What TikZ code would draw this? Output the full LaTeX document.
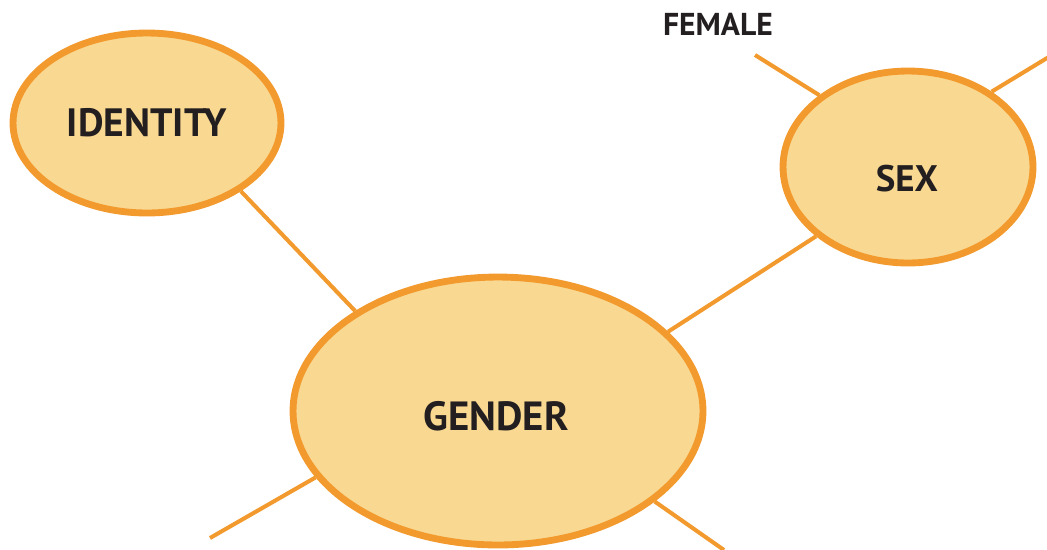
\documentclass[tikz,border=0pt]{standalone}
\usepackage{fontspec}
\setmainfont{PT Sans}
\usepackage{xcolor}
\usetikzlibrary{shapes.geometric}

\definecolor{bubblefill}{HTML}{F9D891}
\definecolor{bubbleline}{HTML}{F29A2E}
\definecolor{labeltext}{HTML}{231F20}

\begin{document}
\begin{tikzpicture}[
			x=0.02cm, y=-0.02cm,
			bubble/.style={ellipse, draw=bubbleline, fill=bubblefill, line width=3.9pt, inner sep=0pt, text=labeltext, font=\bfseries},
			link/.style={draw=bubbleline, line width=2.3pt}
			]
			\useasboundingbox (0,0) rectangle (1047,549);
			
			% Nodes
			\node (identity) [bubble, minimum width=5.36cm, minimum height=3.6cm] at (147,123) {\fontsize{22.5}{24}\selectfont IDENTITY};
			\node (sex) [bubble, minimum width=5.0cm, minimum height=3.84cm] at (908,167) {};
			\node (sexlabel) [text=labeltext, font=\bfseries\fontsize{21}{23}\selectfont] at (907,179) {SEX};
			\node (gender) [bubble, minimum width=8.2cm, minimum height=5.36cm] at (498,411) {};
			\node (genderlabel) [text=labeltext, font=\bfseries\fontsize{23.2}{25}\selectfont] at (496,416) {GENDER};
			\node (female) [text=labeltext, font=\bfseries\fontsize{18}{20}\selectfont] at (718,24) {FEMALE};
			\coordinate (femaleend) at (755,55);
			\coordinate (maleend) at (1052,55);
			\coordinate (leftend) at (210,538);
			\coordinate (rightend) at (724,550);
			
			% Connections
			\draw [link] (identity.-36) -- (gender.145);
			\draw [link] (sex.-143) -- (gender.25);
			\draw [link] (sex.141) -- (femaleend);
			\draw [link] (sex.42) -- (maleend);
			\draw [link] (gender.-160) -- (leftend);
			\draw [link] (gender.-30) -- (rightend);
			
		\end{tikzpicture}
\end{document}
